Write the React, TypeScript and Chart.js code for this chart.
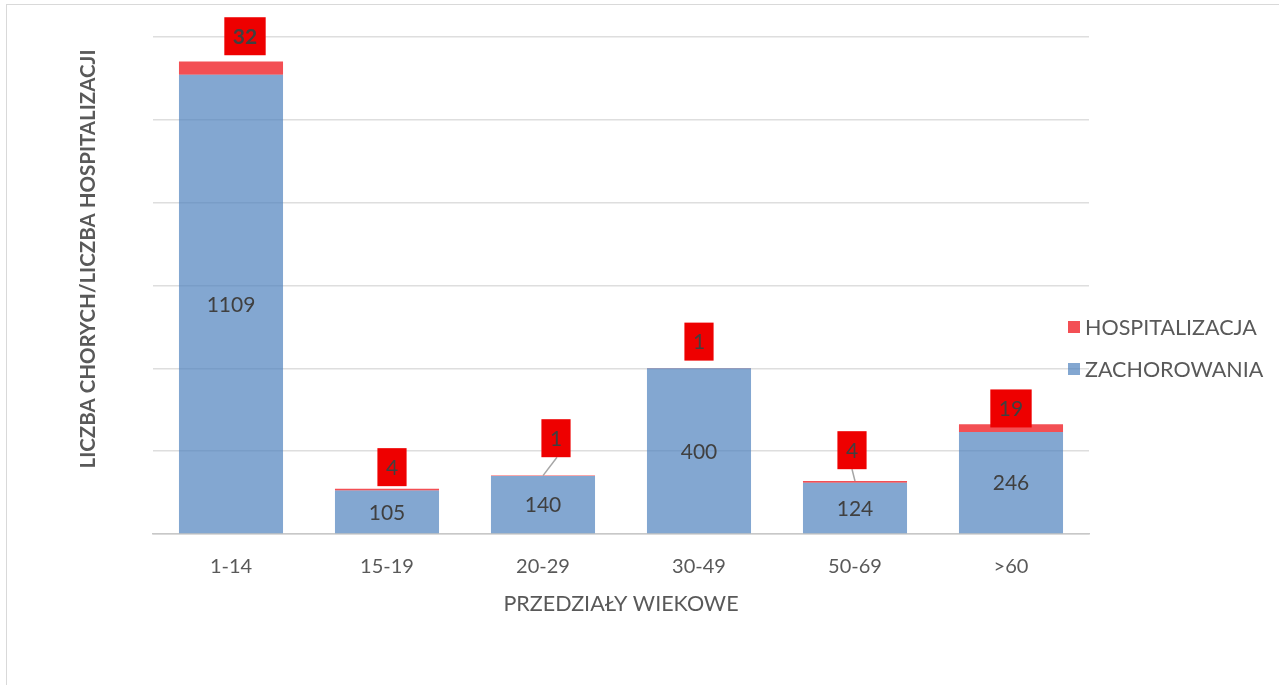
import React, { useEffect, useRef } from "react";
import { Chart, registerables } from "chart.js";

Chart.register(...registerables);

// ---- data ----
const CATEGORIES = ["1-14", "15-19", "20-29", "30-49", "50-69", ">60"];
const ZACHOROWANIA = [1109, 105, 140, 400, 124, 246];
const HOSPITALIZACJA = [32, 4, 1, 1, 4, 19];
const Y_MIN = 0;
const Y_MAX = 1200;
const Y_STEP = 200;
const X_TITLE = "PRZEDZIAŁY WIEKOWE";
const Y_TITLE = "LICZBA CHORYCH/LICZBA HOSPITALIZACJI";

// ---- styling ----
const BLUE = "rgba(79,129,189,0.7)";
const RED = "rgba(240,30,36,0.78)";
const BOX_RED = "#EE0000";
const TEXT_DARK = "#404040";
const TEXT_GRAY = "#595959";
const FONT = "Lato, 'Open Sans', sans-serif";
// label box offsets (px) relative to top of stacked bar
const HOSP_LABEL_OFFSETS: [number, number][] = [
  [14, -25.2],
  [5, -21.7],
  [13, -37.4],
  [0, -26.3],
  [-3, -30.8],
  [0, -15.8],
];
const HOSP_LEADER = [false, false, true, false, true, false];
const HOSP_BOLD = [true, false, false, false, false, false];

const labelsPlugin = {
  id: "customLabels",
  afterDatasetsDraw(chart: any) {
    const ctx = chart.ctx;
    const metaBlue = chart.getDatasetMeta(0);
    const metaRed = chart.getDatasetMeta(1);
    ctx.save();
    // blue values centred in bars
    ctx.font = `21px ${FONT}`;
    ctx.fillStyle = TEXT_DARK;
    ctx.textAlign = "center";
    ctx.textBaseline = "middle";
    metaBlue.data.forEach((el: any, i: number) => {
      const cy = (el.y + el.base) / 2;
      ctx.fillText(String(ZACHOROWANIA[i]), el.x, cy + 1);
    });
    // red values in boxes
    metaRed.data.forEach((el: any, i: number) => {
      const [dx, dy] = HOSP_LABEL_OFFSETS[i];
      const cx = el.x + dx;
      const cy = el.y + dy;
      ctx.font = `${HOSP_BOLD[i] ? "bold " : ""}21px ${FONT}`;
      const txt = String(HOSPITALIZACJA[i]);
      const w = ctx.measureText(txt).width + 17;
      const h = 38;
      if (HOSP_LEADER[i]) {
        ctx.strokeStyle = "#A6A6A6";
        ctx.lineWidth = 1.5;
        ctx.beginPath();
        ctx.moveTo(el.x, el.y);
        ctx.lineTo(cx + (i === 2 ? 1 : 0), cy + h / 2);
        ctx.stroke();
      }
      ctx.fillStyle = BOX_RED;
      ctx.fillRect(cx - w / 2, cy - h / 2, w, h);
      ctx.fillStyle = TEXT_DARK;
      ctx.fillText(txt, cx, cy + 1);
    });
    ctx.restore();
  },
  afterDraw(chart: any) {
    const ctx = chart.ctx;
    const area = chart.chartArea;
    ctx.save();
    // y title
    ctx.translate(88, 259);
    ctx.rotate(-Math.PI / 2);
    ctx.font = `bold 20.5px ${FONT}`;
    ctx.fillStyle = TEXT_GRAY;
    ctx.textAlign = "center";
    ctx.textBaseline = "middle";
    ctx.fillText(Y_TITLE, 0, 0);
    ctx.restore();

    // x title
    ctx.save();
    ctx.font = `21.5px ${FONT}`;
    ctx.fillStyle = TEXT_GRAY;
    ctx.textAlign = "center";
    ctx.textBaseline = "middle";
    ctx.fillText(X_TITLE, (area.left + area.right) / 2, 604);
    ctx.restore();

    // legend (reversed order)
    ctx.save();
    ctx.font = `21.5px ${FONT}`;
    ctx.textBaseline = "middle";
    ctx.textAlign = "left";
    const ds = chart.data.datasets;
    const order = [1, 0];
    order.forEach((di, k) => {
      const y = 327 + k * 42;
      ctx.fillStyle = ds[di].backgroundColor;
      ctx.fillRect(1068, y - 6, 12, 12);
      ctx.fillStyle = TEXT_GRAY;
      ctx.fillText(ds[di].label, 1085, y + 1);
    });
    ctx.restore();
  },
};

export default function App() {
  const ref = useRef<HTMLCanvasElement>(null);
  useEffect(() => {
    if (!ref.current) return;
    const chart = new Chart(ref.current, {
      type: "bar",
      data: {
        labels: CATEGORIES,
        datasets: [
          {
            label: "ZACHOROWANIA",
            data: ZACHOROWANIA,
            backgroundColor: BLUE,
            categoryPercentage: 1,
            barPercentage: 0.667,
          },
          {
            label: "HOSPITALIZACJA",
            data: HOSPITALIZACJA,
            backgroundColor: RED,
            categoryPercentage: 1,
            barPercentage: 0.667,
          },
        ],
      },
      options: {
        animation: false,
        responsive: false,
        layout: { padding: { left: 153, right: 190, top: 37, bottom: 85 } },
        plugins: {
          legend: { display: false },
          tooltip: { enabled: false },
        },
        scales: {
          x: {
            stacked: true,
            grid: { display: false, drawTicks: false },
            border: { display: true, color: "#C8C8C8", width: 1.5 },
            ticks: {
              color: TEXT_GRAY,
              font: { family: FONT, size: 20 },
              padding: 21,
            },
          },
          y: {
            stacked: true,
            min: Y_MIN,
            max: Y_MAX,
            ticks: { display: false, stepSize: Y_STEP },
            grid: { color: "#DEDEDE", lineWidth: 1.5, drawTicks: false },
            border: { display: false },
          },
        },
      },
      plugins: [labelsPlugin],
    });
    return () => chart.destroy();
  }, []);
  return (
    <div
      style={{
        position: "fixed",
        left: 0,
        top: 0,
        width: 1279,
        height: 685,
        overflow: "hidden",
        background: "#fff",
      }}
    >
      <div
        style={{
          position: "absolute",
          left: 6,
          top: 4,
          width: 1400,
          height: 800,
          border: "1px solid #D9D9D9",
        }}
      />
      <canvas
        ref={ref}
        width={1279}
        height={685}
        style={{ position: "absolute", left: 0, top: 0, width: 1279, height: 685 }}
      />
    </div>
  );
}
